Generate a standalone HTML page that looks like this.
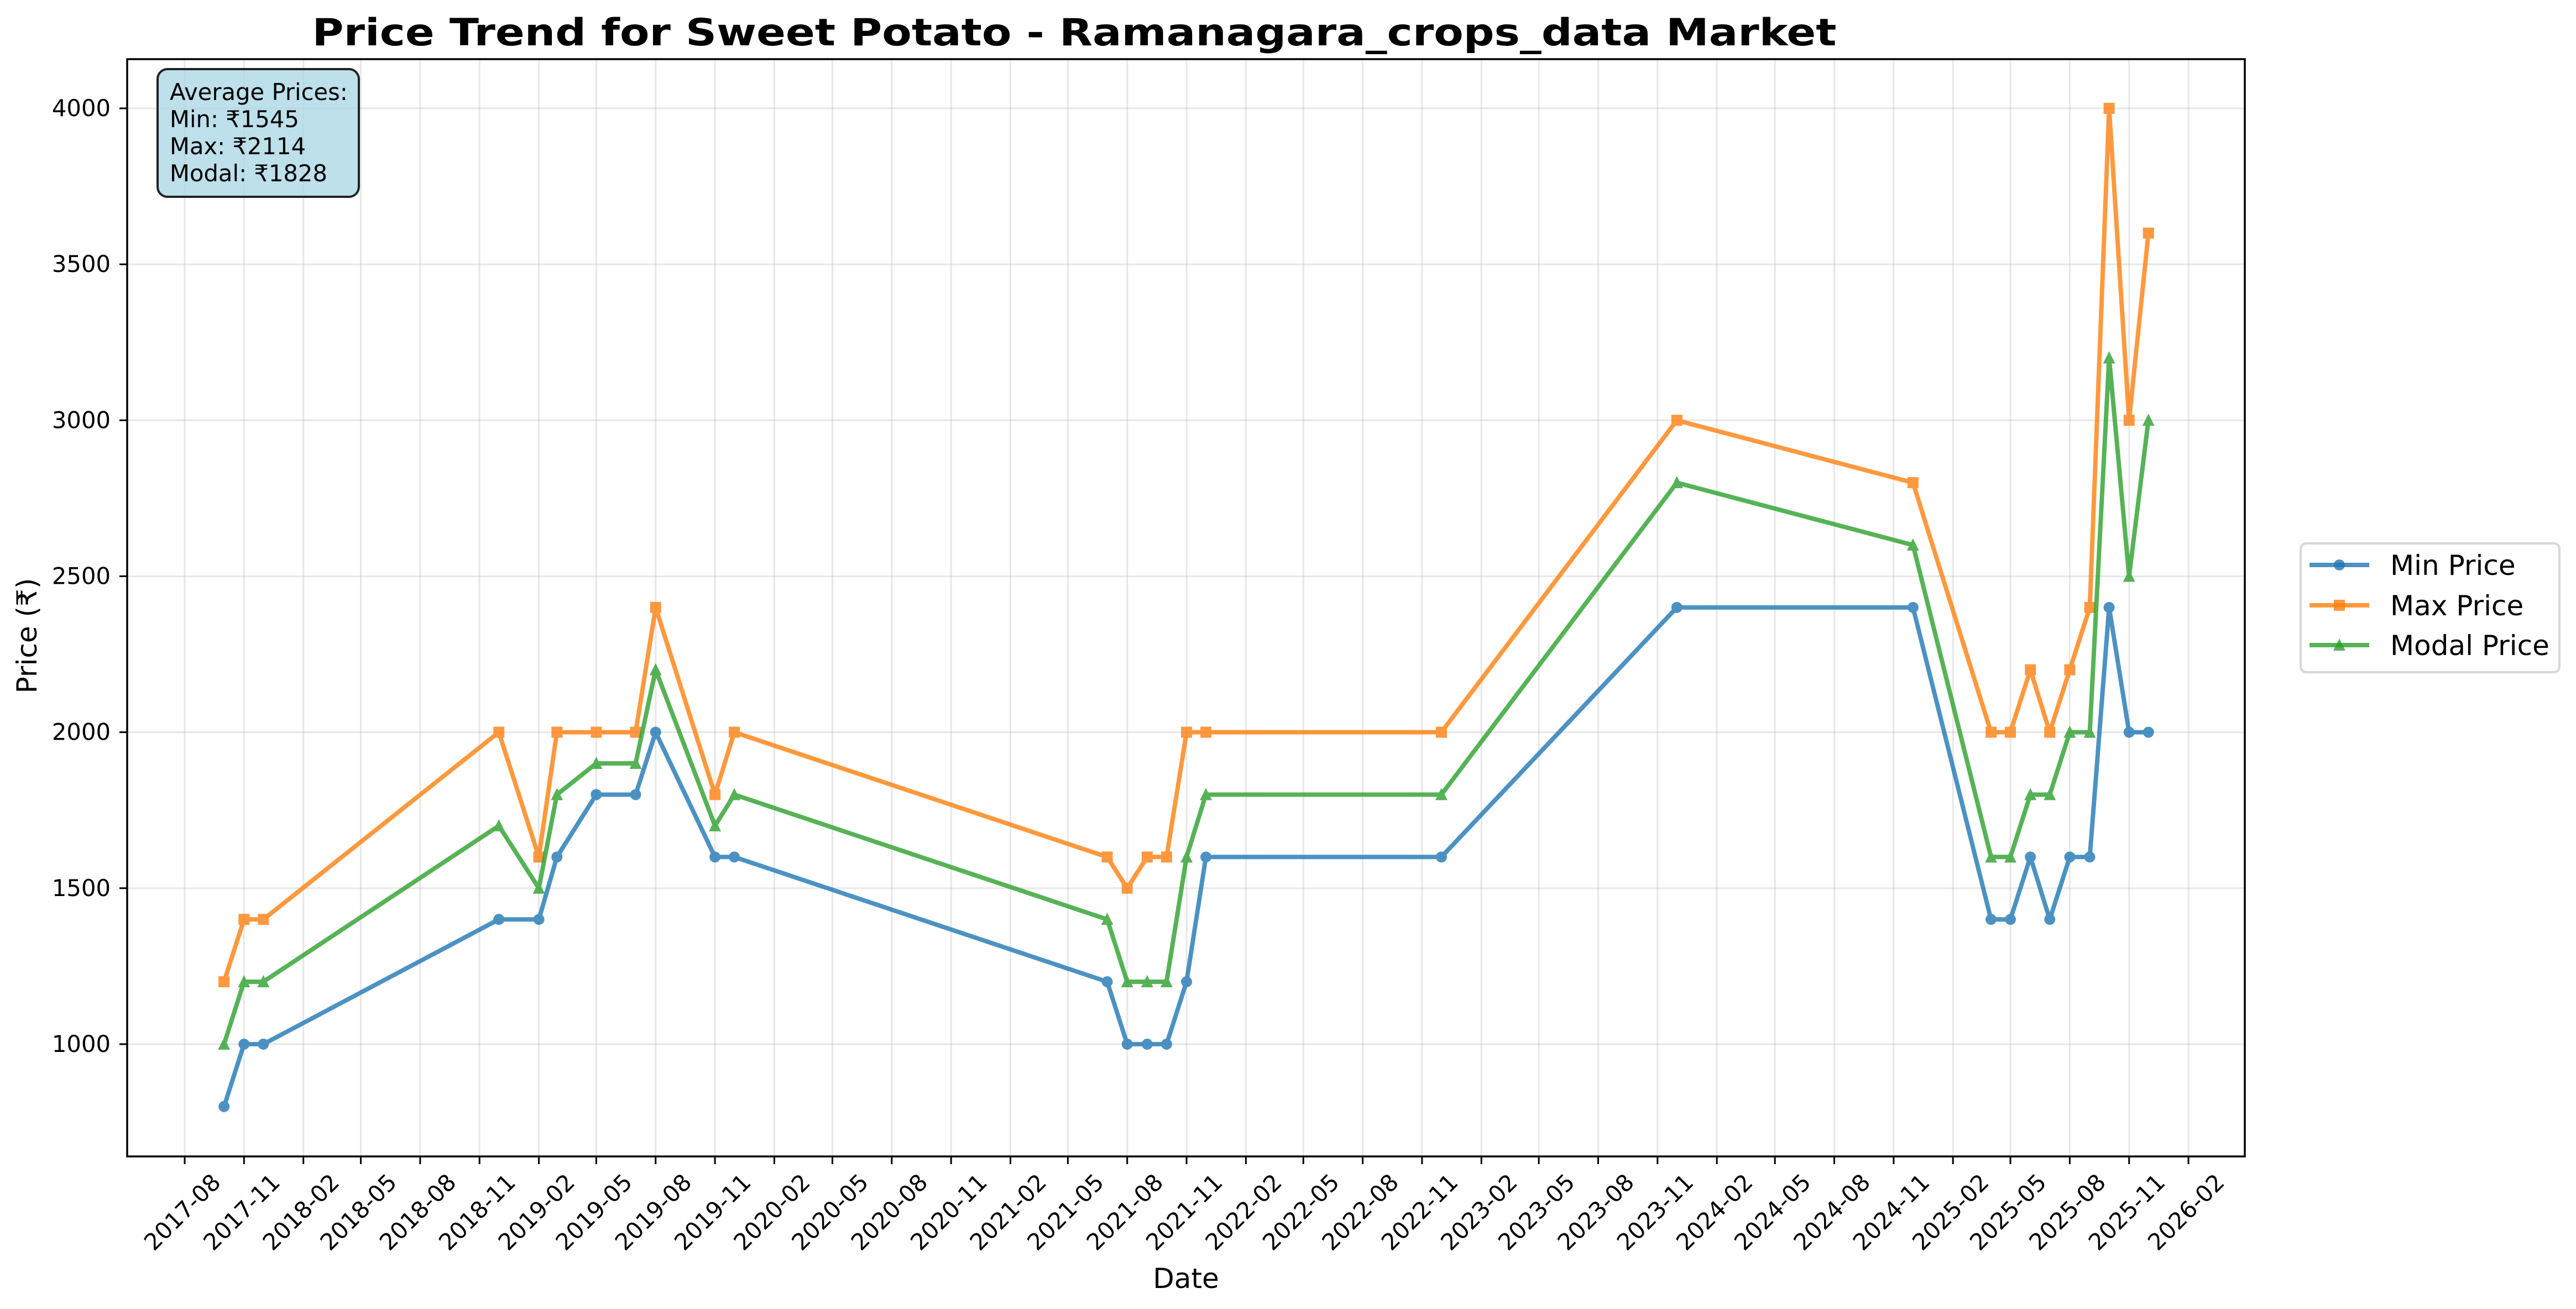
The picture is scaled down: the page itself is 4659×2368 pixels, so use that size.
<!DOCTYPE html>
<html><head><meta charset="utf-8"><style>
html,body{margin:0;padding:0;background:#fff;}
svg{display:block;font-family:"DejaVu Sans","Liberation Sans",sans-serif;}
</style></head><body>
<svg id="chart" width="4659" height="2368" viewBox="0 0 4659 2368" xmlns="http://www.w3.org/2000/svg">
<rect x="0" y="0" width="4659" height="2368" fill="#fff"/>
<text x="1943" y="82" font-size="68" font-weight="bold" text-anchor="middle" textLength="2757" lengthAdjust="spacingAndGlyphs">Price Trend for Sweet Potato - Ramanagara_crops_data Market</text>
<g id="grid"></g>
<g id="series"></g>
<rect x="230" y="107" width="3830" height="1985" fill="none" stroke="#000" stroke-width="3.5"/>
<g id="axes"></g>
<text x="2145" y="2330" font-size="50" text-anchor="middle">Date</text>
<text x="0" y="0" font-size="50" text-anchor="middle" transform="translate(66,1150) rotate(-90)">Price (₹)</text>
<g>
<rect x="285" y="125" width="364" height="231" rx="18" fill="#add8e6" fill-opacity="0.8" stroke="#222" stroke-width="4"/>
<text font-size="41.7" x="307">
<tspan x="307" y="181">Average Prices:</tspan>
<tspan x="307" y="230">Min: ₹1545</tspan>
<tspan x="307" y="279">Max: ₹2114</tspan>
<tspan x="307" y="328">Modal: ₹1828</tspan>
</text>
</g>
<g>
<rect x="4161" y="983" width="468" height="233" rx="10" fill="#fff" fill-opacity="0.8" stroke="#d6d6d6" stroke-width="4"/>
<g>
<line x1="4177" y1="1022" x2="4285" y2="1022" stroke="#1f77b4" stroke-opacity="0.8" stroke-width="8"/>
<circle cx="4231" cy="1022" r="10" fill="#1f77b4" fill-opacity="0.8"/>
<text x="4323" y="1040" font-size="50">Min Price</text></g>
<g>
<line x1="4177" y1="1095" x2="4285" y2="1095" stroke="#ff7f0e" stroke-opacity="0.8" stroke-width="8"/>
<rect x="4221" y="1085" width="20" height="20" fill="#ff7f0e" fill-opacity="0.8"/>
<text x="4323" y="1113" font-size="50">Max Price</text></g>
<g>
<line x1="4177" y1="1167" x2="4285" y2="1167" stroke="#2ca02c" stroke-opacity="0.8" stroke-width="8"/>
<polygon points="4231,1155 4242,1177 4220,1177" fill="#2ca02c" fill-opacity="0.8"/>
<text x="4323" y="1185" font-size="50">Modal Price</text></g>
</g>
</svg>
<script>
const dates = ["2017-10-01","2017-11-01","2017-12-01","2018-12-01","2019-02-01","2019-03-01","2019-05-01","2019-07-01","2019-08-01","2019-11-01","2019-12-01","2021-07-01","2021-08-01","2021-09-01","2021-10-01","2021-11-01","2021-12-01","2022-12-01","2023-12-01","2024-12-01","2025-04-01","2025-05-01","2025-06-01","2025-07-01","2025-08-01","2025-09-01","2025-10-01","2025-11-01","2025-12-01"];
const minPrice = [800,1000,1000,1400,1400,1600,1800,1800,2000,1600,1600,1200,1000,1000,1000,1200,1600,1600,2400,2400,1400,1400,1600,1400,1600,1600,2400,2000,2000];
const maxPrice = [1200,1400,1400,2000,1600,2000,2000,2000,2400,1800,2000,1600,1500,1600,1600,2000,2000,2000,3000,2800,2000,2000,2200,2000,2200,2400,4000,3000,3600];
const modalPrice = [1000,1200,1200,1700,1500,1800,1900,1900,2200,1700,1800,1400,1200,1200,1200,1600,1800,1800,2800,2600,1600,1600,1800,1800,2000,2000,3200,2500,3000];
const yTicks = [1000,1500,2000,2500,3000,3500,4000];
const xTickLabels = (function(){const a=[];let y=2017,m=8;while(y<2026||(y===2026&&m<=2)){a.push(y+"-"+String(m).padStart(2,"0"));m+=3;if(m>12){m-=12;y++;}}return a;})();

const NS="http://www.w3.org/2000/svg";
const L=230,R=4060,T=107,B=2092;
const t0=Date.UTC(2017,7,1), pxPerDay=1.1668, x0=334;
function xScale(s){const p=s.split("-").map(Number);const d=(Date.UTC(p[0],p[1]-1,p[2]||1)-t0)/86400000;return x0+d*pxPerDay;}
function yScale(v){return 196+(4000-v)*0.5643;}
function mk(tag,attrs,parent){const e=document.createElementNS(NS,tag);for(const k in attrs)e.setAttribute(k,attrs[k]);parent.appendChild(e);return e;}
const grid=document.getElementById("grid"),axes=document.getElementById("axes"),series=document.getElementById("series");
yTicks.forEach(v=>{const y=yScale(v);
 const g=mk("line",{x1:L,x2:R,y1:y,y2:y,stroke:"#b0b0b0","stroke-opacity":"0.3","stroke-width":"3"},grid);
 
 
 const t=mk("line",{x1:L-14,x2:L,y1:y,y2:y,stroke:"#000","stroke-width":"3"},axes);
 
 
 const lb=mk("text",{x:L-30,y:y+14,"font-size":"41.7","text-anchor":"end"},axes);lb.textContent=v;
 
 
});
xTickLabels.forEach(s=>{const x=xScale(s+"-01");
 const g=mk("line",{x1:x,x2:x,y1:T,y2:B,stroke:"#b0b0b0","stroke-opacity":"0.3","stroke-width":"3"},grid);
 
 
 const t=mk("line",{x1:x,x2:x,y1:B,y2:B+14,stroke:"#000","stroke-width":"3"},axes);
 
 
 const lb=mk("text",{x:0,y:14,"font-size":"41.7","text-anchor":"middle",transform:"translate("+(x-4)+",2193) rotate(-45)"},axes);lb.textContent=s;
 
 
});
function drawSeries(vals,color,marker,name){
 const g=mk("g",{opacity:"0.8"},series);
 
 
 const pts=dates.map((d,i)=>xScale(d).toFixed(1)+","+yScale(vals[i]).toFixed(1)).join(" ");
 const pl=mk("polyline",{points:pts,fill:"none",stroke:color,"stroke-width":"8","stroke-linejoin":"round","stroke-linecap":"round"},g);
 
 
 dates.forEach((d,i)=>{const x=xScale(d),y=yScale(vals[i]);let m;
  if(marker==="o")m=mk("circle",{cx:x,cy:y,r:10,fill:color},g);
  else if(marker==="s")m=mk("rect",{x:x-10,y:y-10,width:20,height:20,fill:color},g);
  else m=mk("polygon",{points:x+","+(y-12)+" "+(x+11)+","+(y+10)+" "+(x-11)+","+(y+10),fill:color},g);
  
  
 });
}
drawSeries(minPrice,"#1f77b4","o","min-price");
drawSeries(maxPrice,"#ff7f0e","s","max-price");
drawSeries(modalPrice,"#2ca02c","^","modal-price");
</script>
</body></html>
